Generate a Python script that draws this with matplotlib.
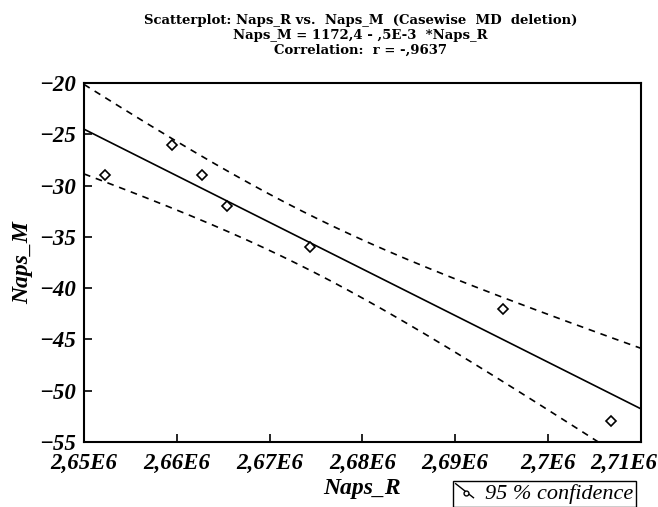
import matplotlib
matplotlib.use('Agg')
import matplotlib.pyplot as plt
import matplotlib.transforms as mtransforms
import numpy as np
from matplotlib.lines import Line2D
from matplotlib.legend_handler import HandlerBase

# ── data ────────────────────────────────────────────────────
naps_r = [2652240, 2659500, 2662660, 2665430, 2674370, 2695110, 2706820]
naps_m = [-29, -26, -29, -32, -36, -42, -53]

x_ticks = [2.65e6, 2.66e6, 2.67e6, 2.68e6, 2.69e6, 2.70e6, 2.71e6]
x_tick_labels = ['2,65E6', '2,66E6', '2,67E6', '2,68E6', '2,69E6', '2,7E6', '2,71E6']
y_ticks = [-55, -50, -45, -40, -35, -30, -25, -20]
y_tick_labels = ['\u221255', '\u221250', '\u221245', '\u221240',
                 '\u221235', '\u221230', '\u221225', '\u221220']

title_lines = ['Scatterplot: Naps_R vs.  Naps_M  (Casewise  MD  deletion)',
               'Naps_M = 1172,4 - ,5E-3  *Naps_R',
               'Correlation:  r = -,9637']
T_95 = 2.5706  # t(0.975, df=5)
# ────────────────────────────────────────────────────────────

SERIF = ['DejaVu Serif']
TICKF = ['Liberation Serif']


class DiagHandler(HandlerBase):
    # diagonal line with a small circle, like the Statistica legend icon
    def create_artists(self, legend, orig, xd, yd, w, h, fs, trans):
        ln = Line2D([-xd, -xd + w], [-yd + h * 1.0, -yd + h * 0.1],
                    color='black', lw=1, transform=trans)
        mk = Line2D([-xd + w * 0.6], [-yd + h * 0.4], ls='none', marker='o',
                    ms=3.5, mfc='white', mec='black', mew=1, transform=trans)
        return [ln, mk]


x = np.array(naps_r, dtype=float)
y = np.array(naps_m, dtype=float)
n = len(x)
slope, icpt = np.polyfit(x, y, 1)
xm = x.mean()
sxx = ((x - xm) ** 2).sum()
s = np.sqrt(((y - (icpt + slope * x)) ** 2).sum() / (n - 2))

xs = np.linspace(2.65e6, 2.71e6, 300)
fit = icpt + slope * xs
hw = T_95 * s * np.sqrt(1 / n + (xs - xm) ** 2 / sxx)

fig = plt.figure(figsize=(6.58, 5.07), dpi=100)
ax = fig.add_axes([0.1277, 0.1282, 0.8463, 0.7081])

ax.plot(xs, fit, color='black', lw=1.2)
ax.plot(xs, fit + hw, color='black', lw=1.2, ls=(0, (4, 3.5)))
ax.plot(xs, fit - hw, color='black', lw=1.2, ls=(0, (4, 3.5)))
ax.plot(x, y, ls='none', marker='D', ms=5, mfc='white', mec='black', mew=1.2)

ax.set_xlim(2.65e6, 2.71e6)
ax.set_ylim(-55, -20)
ax.set_xticks(x_ticks)
ax.set_xticklabels(x_tick_labels)
ax.set_yticks(y_ticks)
ax.set_yticklabels(y_tick_labels)
ax.tick_params(direction='in', length=6, width=1.2, labelsize=16.5)
ax.tick_params(axis='x', pad=8)
ax.tick_params(axis='y', pad=6)
for lab in ax.get_xticklabels() + ax.get_yticklabels():
    lab.set_family(TICKF)
    lab.set_style('italic')
    lab.set_weight('bold')
# last x label sits left of its tick so it fits inside the figure
last = ax.get_xticklabels()[-1]
last.set_transform(last.get_transform() +
                   mtransforms.ScaledTranslation(-0.17, 0, fig.dpi_scale_trans))
for sp in ax.spines.values():
    sp.set_linewidth(1.5)

ax.set_xlabel('Naps_R', family=TICKF, style='italic', weight='bold',
              fontsize=17, labelpad=3)
ax.set_ylabel('Naps_M', family=TICKF, style='italic', weight='bold',
              fontsize=17, labelpad=4)

for i, line in enumerate(title_lines):
    fig.text(0.548, 0.960 - i * 0.030, line, ha='center', va='center',
             family=SERIF, weight='bold', fontsize=9.5)

fig.legend([object()], ['95 % confidence'], loc='upper left',
           handler_map={object: DiagHandler()},
           bbox_to_anchor=(0.6885, 0.0512), borderaxespad=0,
           fancybox=False, edgecolor='black', framealpha=1,
           handlelength=0.8, handletextpad=0.5, borderpad=0.12,
           prop={'family': TICKF, 'style': 'italic', 'size': 16})

plt.savefig('out.png', dpi=100)
